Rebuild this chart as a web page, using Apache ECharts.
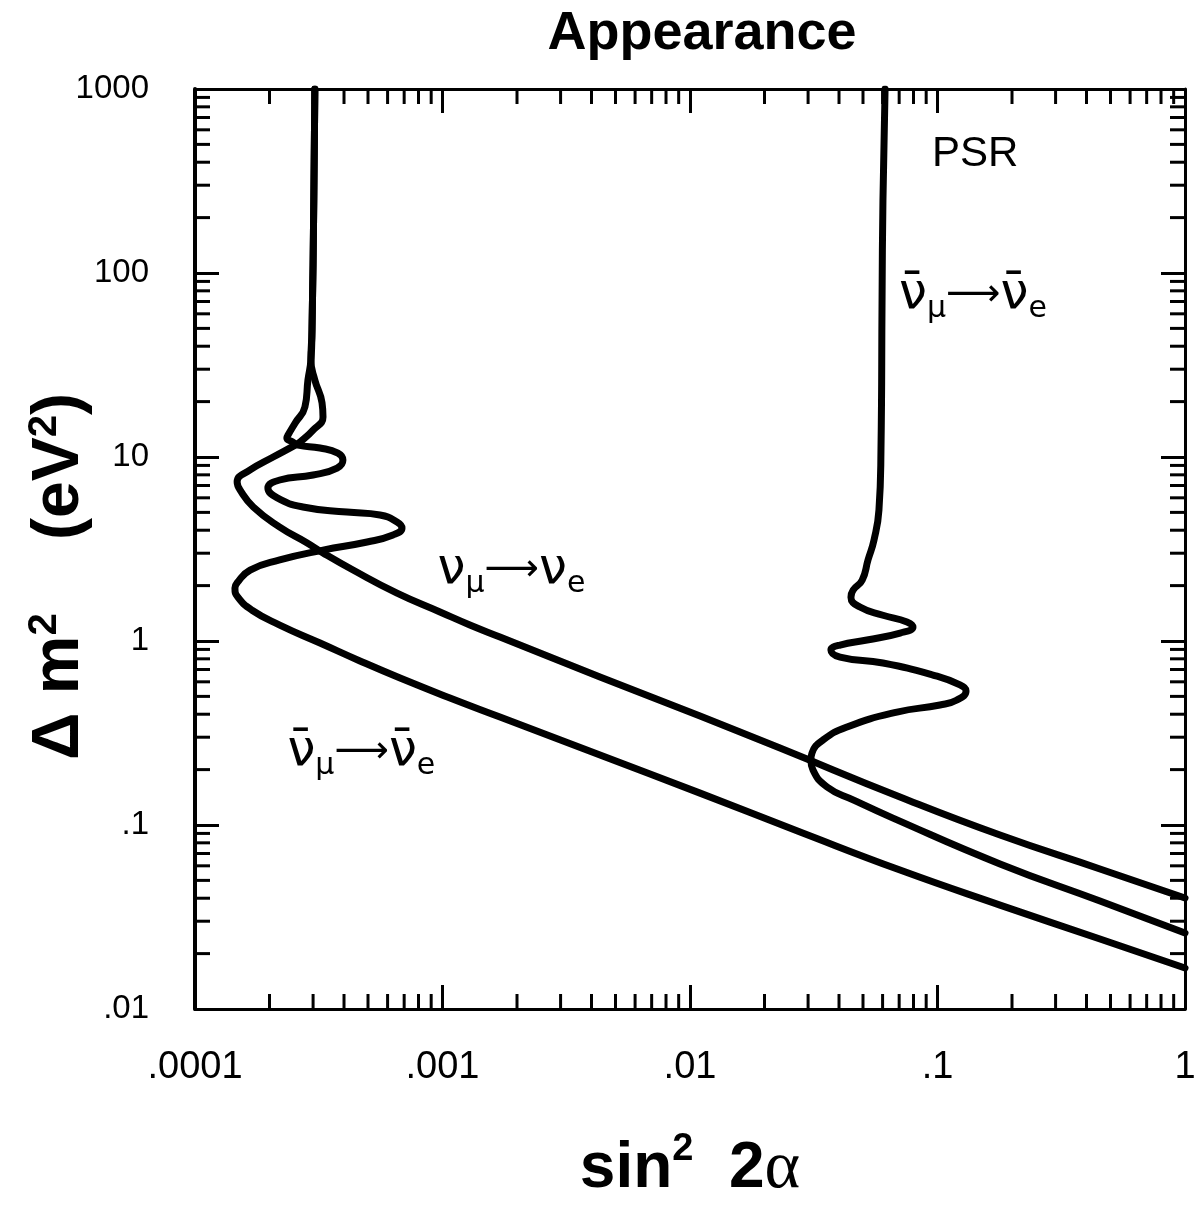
<!DOCTYPE html>
<html>
<head>
<meta charset="utf-8">
<script src="https://cdn.jsdelivr.net/npm/echarts@6/dist/echarts.min.js"></script>
<style>
html,body{margin:0;padding:0;background:#fff;}
#chart{width:1203px;height:1210px;}
</style>
</head>
<body>
<div id="chart"></div>
<script>
// ---- Axis ranges and tick labels ----
const xMin = 0.0001, xMax = 1;
const yMin = 0.01, yMax = 1000;
const xTickLabels = ['.0001', '.001', '.01', '.1', '1'];
const yTickLabels = ['.01', '.1', '1', '10', '100', '1000'];
const minorMultipliers = [2, 3, 4, 5, 6, 7, 8, 9];

// ---- Curves: [sin^2 2a, dm^2 (eV^2)] ----
// nubar_mu -> nubar_e (lower curve with wiggles)
const antiNuLow = [
  [0.000305, 1000], [0.000302, 249], [0.000297, 49], [0.000294, 33.7],
  [0.000286, 26.2], [0.000278, 18.7], [0.000254, 15.3], [0.000238, 13.2],
  [0.000235, 12.7], [0.000247, 12.1], [0.000261, 11.6], [0.000320, 11.2],
  [0.000378, 10.5], [0.000396, 9.63], [0.000375, 8.71], [0.000300, 7.98],
  [0.000220, 7.50], [0.000197, 6.78], [0.000215, 5.99], [0.000273, 5.35],
  [0.000411, 5.02], [0.000559, 4.84], [0.000655, 4.43], [0.000686, 4.11],
  [0.000631, 3.77], [0.000496, 3.45], [0.000329, 3.12], [0.000220, 2.76],
  [0.000167, 2.43], [0.000148, 2.07], [0.000145, 1.94], [0.000149, 1.73],
  [0.000170, 1.47], [0.000220, 1.22], [0.000320, 0.975], [0.000464, 0.779],
  [0.000674, 0.629], [0.001072, 0.490], [0.001707, 0.386], [0.004329, 0.240],
  [0.01098, 0.149], [0.02784, 0.0916], [0.07056, 0.0569], [0.1789, 0.0367],
  [0.4535, 0.0240], [1.0, 0.0167]
];
// nu_mu -> nu_e
const nuMuE = [
  [0.000305, 1000], [0.000302, 249], [0.000297, 49], [0.000294, 33.7],
  [0.000305, 26.2], [0.000326, 19.7], [0.000329, 16.5], [0.000300, 14.0],
  [0.000266, 12.07], [0.000254, 11.6], [0.000207, 10.0], [0.000167, 8.50],
  [0.000148, 7.31], [0.000152, 6.62], [0.000172, 5.35], [0.000220, 4.16],
  [0.000284, 3.41], [0.000329, 3.01], [0.000435, 2.43], [0.000655, 1.82],
  [0.000977, 1.438], [0.00129, 1.222], [0.001707, 1.051], [0.004329, 0.637],
  [0.01098, 0.391], [0.02310, 0.262], [0.07056, 0.142], [0.1789, 0.0882],
  [0.4535, 0.0577], [1.0, 0.0401]
];
// PSR nubar_mu -> nubar_e
const psr = [
  [0.0614, 1000], [0.0602, 249], [0.0597, 71.3], [0.0591, 10.9],
  [0.0580, 5.15], [0.0554, 3.54], [0.0524, 2.76], [0.0496, 2.14],
  [0.0456, 1.89], [0.0447, 1.73], [0.0486, 1.53], [0.0602, 1.38],
  [0.0753, 1.27], [0.0796, 1.19], [0.0706, 1.105], [0.0519, 1.012],
  [0.0404, 0.951], [0.0371, 0.894], [0.0404, 0.818], [0.0602, 0.759],
  [0.0959, 0.653], [0.1233, 0.577], [0.1304, 0.535], [0.1199, 0.478],
  [0.1023, 0.449], [0.0686, 0.411], [0.0431, 0.341], [0.0345, 0.290],
  [0.0311, 0.246], [0.0308, 0.2256], [0.0314, 0.199], [0.0358, 0.161],
  [0.0456, 0.137], [0.0661, 0.109], [0.1789, 0.0614], [0.4535, 0.0386],
  [1.0, 0.0259]
];

// ---- Annotation anchors (data coords) ----
const annotations = [
  {value: [0.142, 440], text: '{r|PSR}'},
  {value: [0.139, 76], text: '{n|ν̄}{s|μ}{a|⟶}{n|ν̄}{s|e}'},
  {value: [0.00190, 2.43], text: '{n|ν}{s|μ}{a|⟶}{n|ν}{s|e}'},
  {value: [0.00047, 0.25], text: '{n|ν̄}{s|μ}{a|⟶}{n|ν̄}{s|e}'}
];

// minor tick values
const xMinor = [], yMinor = [];
for (let k = -4; k < 0; k++) minorMultipliers.forEach(m => xMinor.push([m * Math.pow(10, k), 1]));
for (let k = -2; k < 3; k++) minorMultipliers.forEach(m => yMinor.push([0.01, m * Math.pow(10, k)]));

const chart = echarts.init(document.getElementById('chart'), null, {renderer: 'canvas'});
const lineW = 7;
const frameW = 3;
const minorLen = 15;

function curve(name, data) {
  return {
    name, type: 'line', data, smooth: 0.5, showSymbol: false, symbol: 'none',
    lineStyle: {color: '#000', width: lineW, join: 'round', cap: 'round'},
    xAxisIndex: 0, yAxisIndex: 0, z: 3, silent: true
  };
}

const richX = {
  b: {fontFamily: 'Liberation Sans, Arial', fontWeight: 'bold', fontSize: 64, lineHeight: 76, color: '#000'},
  sup: {fontFamily: 'Liberation Sans, Arial', fontWeight: 'bold', fontSize: 38, lineHeight: 38, verticalAlign: 'top', color: '#000'},
  g: {fontFamily: 'Liberation Serif, serif', fontSize: 68, lineHeight: 76, color: '#000'}
};
const richY = {
  b: {fontFamily: 'Liberation Sans, Arial', fontWeight: 'bold', fontSize: 66, lineHeight: 70, color: '#000'},
  sup: {fontFamily: 'Liberation Sans, Arial', fontWeight: 'bold', fontSize: 40, lineHeight: 40, verticalAlign: 'top', color: '#000'}
};
const richAnn = {
  r: {fontFamily: 'Liberation Sans, Arial', fontSize: 42, color: '#000'},
  n: {fontFamily: 'DejaVu Sans, sans-serif', fontSize: 50, lineHeight: 58, verticalAlign: 'middle', color: '#000'},
  s: {fontFamily: 'DejaVu Sans, sans-serif', fontSize: 30, lineHeight: 30, verticalAlign: 'bottom', color: '#000'},
  a: {fontFamily: 'DejaVu Sans, sans-serif', fontSize: 38, lineHeight: 58, color: '#000'}
};

const option = {
  animation: false,
  backgroundColor: '#fff',
  title: {
    text: 'Appearance', left: 697, top: 2, textAlign: 'center',
    textStyle: {fontFamily: 'Liberation Sans, Arial', fontWeight: 'bold', fontSize: 54, color: '#000'}
  },
  grid: {left: 195, right: 18, top: 89, bottom: 201, containLabel: false, outerBoundsMode: 'none'},
  xAxis: [
    {
      type: 'log', logBase: 10, min: xMin, max: xMax, position: 'bottom',
      axisLine: {show: true, lineStyle: {color: '#000', width: frameW}},
      axisTick: {show: true, inside: true, length: 24, lineStyle: {color: '#000', width: 3}},
      splitLine: {show: false},
      axisLabel: {
        margin: 40, fontSize: 38, fontFamily: 'Liberation Sans Narrow, Liberation Sans, Arial', color: '#000',
        formatter: v => xTickLabels[Math.round(Math.log10(v)) + 4]
      },
      name: '{b|sin}{sup|2}{b|  2}{g|α}', nameLocation: 'middle', nameGap: 122, nameMoveOverlap: false,
      nameTextStyle: {rich: richX}
    },
    {
      type: 'log', logBase: 10, min: xMin, max: xMax, position: 'top',
      axisLine: {show: true, lineStyle: {color: '#000', width: frameW}},
      axisTick: {show: true, inside: true, length: 24, lineStyle: {color: '#000', width: 3}},
      axisLabel: {show: false}, splitLine: {show: false}
    }
  ],
  yAxis: [
    {
      type: 'log', logBase: 10, min: yMin, max: yMax, position: 'left',
      axisLine: {show: true, lineStyle: {color: '#000', width: frameW + 1}},
      axisTick: {show: true, inside: true, length: 24, lineStyle: {color: '#000', width: 3}},
      splitLine: {show: false},
      axisLabel: {
        margin: 46, fontSize: 33, fontFamily: 'Liberation Sans, Arial', color: '#000',
        formatter: v => yTickLabels[Math.round(Math.log10(v)) + 2]
      },
      name: '{b|Δ m}{sup|2}{b|    (eV}{sup|2}{b|)   }', nameLocation: 'middle', nameGap: 100, nameRotate: 90,
      nameMoveOverlap: false,
      nameTextStyle: {rich: richY}
    },
    {
      type: 'log', logBase: 10, min: yMin, max: yMax, position: 'right',
      axisLine: {show: true, lineStyle: {color: '#000', width: frameW}},
      axisTick: {show: true, inside: true, length: 24, lineStyle: {color: '#000', width: 3}},
      axisLabel: {show: false}, splitLine: {show: false}
    }
  ],
  series: [
    curve('antiNuLow', antiNuLow),
    curve('nuMuE', nuMuE),
    curve('psr', psr),
    {
      type: 'custom', name: 'xMinor', coordinateSystem: 'cartesian2d', data: xMinor, silent: true, z: 2,
      renderItem: (params, api) => {
        const v = api.value(0);
        const b = api.coord([v, yMin]);
        const t = api.coord([v, yMax]);
        const st = {stroke: '#000', lineWidth: 3};
        return {type: 'group', children: [
          {type: 'line', shape: {x1: b[0], y1: b[1], x2: b[0], y2: b[1] - minorLen}, style: st},
          {type: 'line', shape: {x1: t[0], y1: t[1], x2: t[0], y2: t[1] + minorLen}, style: st}
        ]};
      }
    },
    {
      type: 'custom', name: 'yMinor', coordinateSystem: 'cartesian2d', data: yMinor, silent: true, z: 2,
      renderItem: (params, api) => {
        const v = api.value(1);
        const l = api.coord([xMin, v]);
        const r = api.coord([xMax, v]);
        const st = {stroke: '#000', lineWidth: 3};
        return {type: 'group', children: [
          {type: 'line', shape: {x1: l[0], y1: l[1], x2: l[0] + minorLen, y2: l[1]}, style: st},
          {type: 'line', shape: {x1: r[0], y1: r[1], x2: r[0] - minorLen, y2: r[1]}, style: st}
        ]};
      }
    },
    {
      type: 'scatter', name: 'labels', symbolSize: 0, silent: true, z: 4,
      itemStyle: {opacity: 1},
      data: annotations.map(a => ({value: a.value, label: {formatter: a.text}})),
      label: {show: true, position: 'inside', color: '#000', opacity: 1, rich: richAnn}
    }
  ]
};
chart.setOption(option);
</script>
</body>
</html>
